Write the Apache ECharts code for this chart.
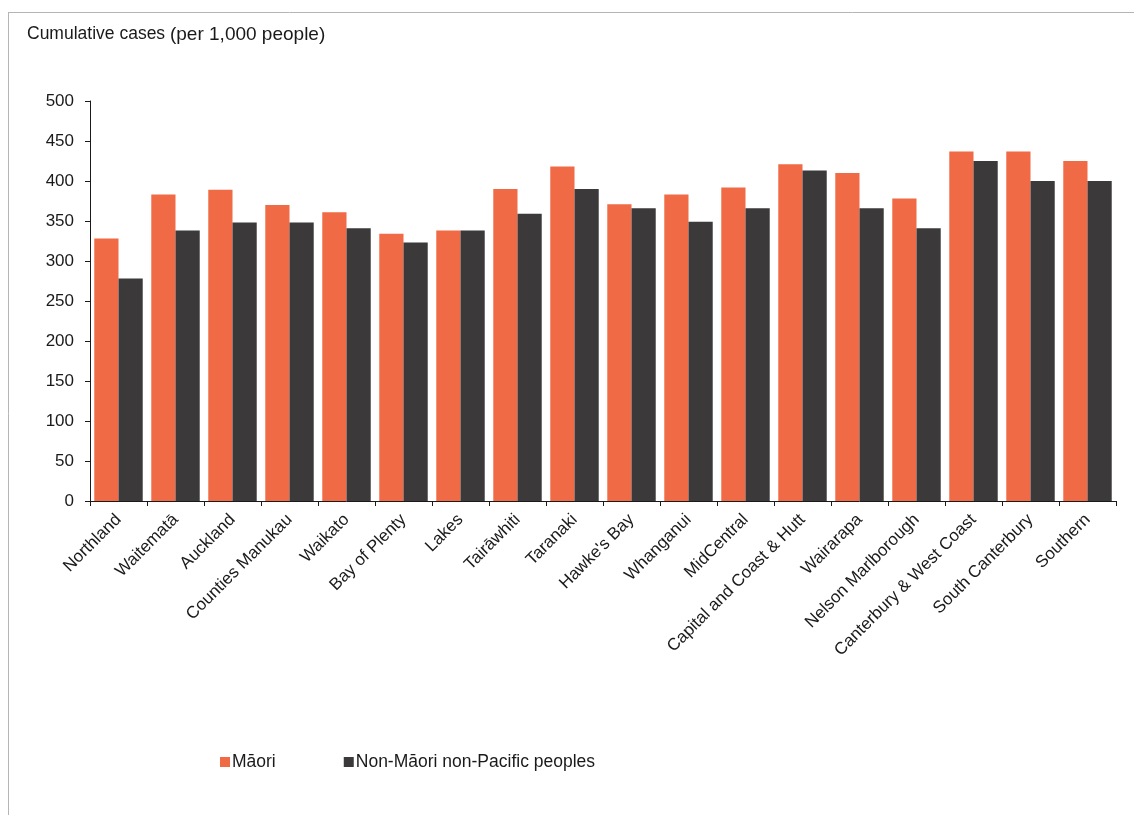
<!DOCTYPE html>
<html>
<head>
<meta charset="utf-8">
<script src="https://cdn.jsdelivr.net/npm/echarts@6/dist/echarts.min.js"></script>
<style>html,body{margin:0;padding:0;background:#fff;}#c{width:1134px;height:815px;}</style>
</head>
<body>
<div id="c"></div>
<script>
const categories = ["Northland","Waitematā","Auckland","Counties Manukau","Waikato","Bay of Plenty","Lakes","Tairāwhiti","Taranaki","Hawke's Bay","Whanganui","MidCentral","Capital and Coast & Hutt","Wairarapa","Nelson Marlborough","Canterbury & West Coast","South Canterbury","Southern"];
const maori = [328, 383, 389, 370, 361, 334, 338, 390, 418, 371, 383, 392, 421, 410, 378, 437, 437, 425];
const nonMaori = [278, 338, 348, 348, 341, 323, 338, 359, 390, 366, 349, 366, 413, 366, 341, 425, 400, 400];
const seriesNames = ["Māori", "Non-Māori non-Pacific peoples"];
const yTicks = [0, 50, 100, 150, 200, 250, 300, 350, 400, 450, 500];

const chart = echarts.init(document.getElementById('c'), null, {renderer: 'canvas'});
const FONT = '"Liberation Sans", Arial, sans-serif';
chart.setOption({
  animation: false,
  backgroundColor: '#ffffff',
  textStyle: {fontFamily: FONT},
  title: {
    text: '{a|Cumulative cases }{b|(per 1,000 people)}',
    left: 22, top: 20,
    textStyle: {
      fontWeight: 'normal',
      rich: {
        a: {fontFamily: FONT, fontSize: 17.5, color: '#1a1a1a', fontWeight: 'normal'},
        b: {fontFamily: FONT, fontSize: 19, color: '#1a1a1a', fontWeight: 'normal'}
      }
    }
  },
  legend: {
    left: 215, top: 748,
    itemWidth: 10, itemHeight: 10, itemGap: 68,
    icon: 'rect',
    textStyle: {fontFamily: FONT, fontSize: 17.5, color: '#1a1a1a', padding: [0,0,0,-3]},
    data: seriesNames
  },
  graphic: [
    {type: 'line', shape: {x1: 8, y1: 12.5, x2: 1134, y2: 12.5}, style: {stroke: '#b5b5b5', lineWidth: 1}},
    {type: 'line', shape: {x1: 8.5, y1: 12, x2: 8.5, y2: 815}, style: {stroke: '#b5b5b5', lineWidth: 1}}
  ],
  grid: {left: 90, right: 18, top: 101, bottom: 314, containLabel: false},
  xAxis: {
    type: 'category',
    data: categories,
    axisLine: {lineStyle: {color: '#1a1a1a', width: 1}},
    axisTick: {show: true, length: 5, lineStyle: {color: '#1a1a1a'}},
    axisLabel: {rotate: 45, interval: 0, fontFamily: FONT, fontSize: 17, color: '#1a1a1a', margin: 16}
  },
  yAxis: {
    type: 'value',
    min: 0, max: 500, interval: 50,
    splitLine: {show: false},
    axisLine: {show: true, lineStyle: {color: '#1a1a1a', width: 1}},
    axisTick: {show: true, length: 5, lineStyle: {color: '#1a1a1a'}},
    axisLabel: {fontFamily: FONT, fontSize: 17, color: '#1a1a1a', margin: 16,
      formatter: v => yTicks.includes(v) ? String(v) : ''}
  },
  series: [
    {name: seriesNames[0], type: 'bar', data: maori, itemStyle: {color: '#F06A45'}, barGap: '0%', barCategoryGap: '15%'},
    {name: seriesNames[1], type: 'bar', data: nonMaori, itemStyle: {color: '#3B393A'}, barGap: '0%', barCategoryGap: '15%'}
  ]
});
</script>
</body>
</html>
